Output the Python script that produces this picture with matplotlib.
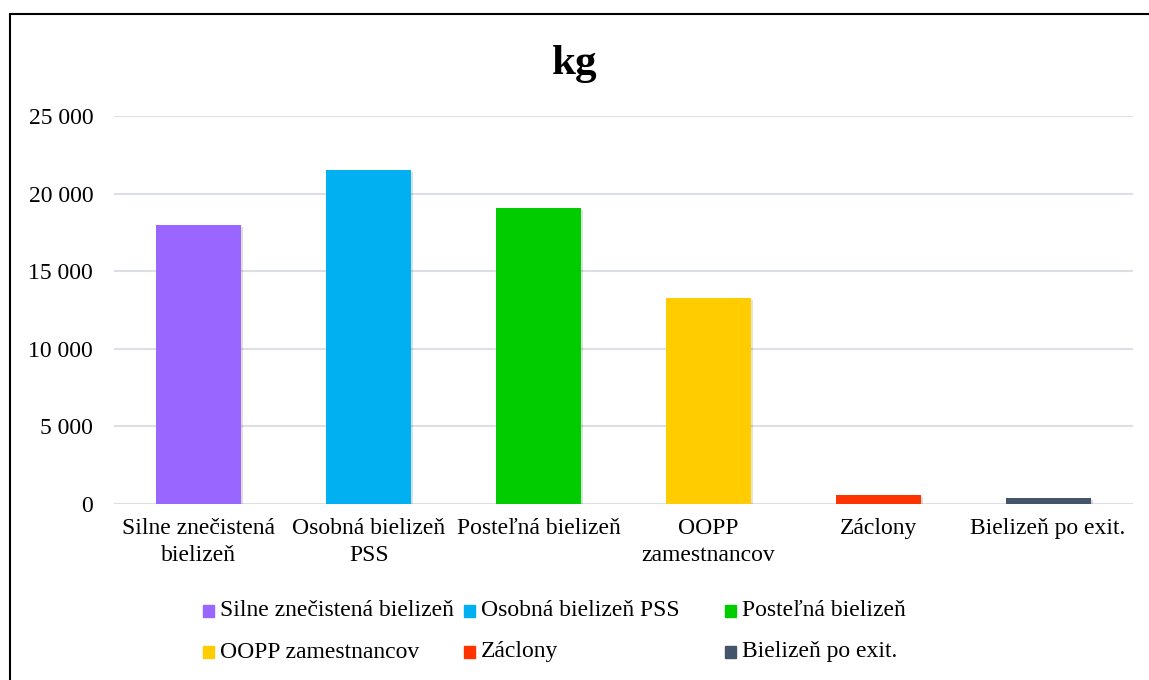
import matplotlib.pyplot as plt
import matplotlib.patheffects as pe
from matplotlib.patches import Rectangle
from matplotlib.ticker import FuncFormatter

plt.rcParams['font.family'] = ['Liberation Serif', 'DejaVu Serif']

# Data
categories = ["Silne znečistená bielizeň", "Osobná bielizeň PSS", "Posteľná bielizeň",
              "OOPP zamestnancov", "Záclony", "Bielizeň po exit."]
tick_labels = ["Silne znečistená\nbielizeň", "Osobná bielizeň\nPSS", "Posteľná bielizeň",
               "OOPP\nzamestnancov", "Záclony", "Bielizeň po exit."]
values = [18000, 21550, 19050, 13300, 580, 390]
colors = ["#9966FF", "#00B0F0", "#00CC00", "#FFCC00", "#FF3300", "#44546A"]

W, H = 1149, 680
fig = plt.figure(figsize=(W / 100, H / 100), dpi=100)
ax = fig.add_axes([114 / W, 1 - 504 / H, (1133 - 114) / W, (504 - 116) / H])

x = list(range(len(values)))
bars = ax.bar(x, values, width=0.5, color=colors, zorder=3)
for b in bars:
    b.set_path_effects([pe.SimplePatchShadow(offset=(1.5, -1.5), alpha=0.15), pe.Normal()])

ax.set_xlim(-0.5, len(values) - 0.5)
ax.set_ylim(0, 25000)
ax.set_yticks(range(0, 25001, 5000))
ax.yaxis.set_major_formatter(FuncFormatter(lambda v, p: f"{int(v):,}".replace(",", " ")))
ax.set_xticks(x)
ax.set_xticklabels(tick_labels, linespacing=1.4)
ax.tick_params(axis='both', length=0, labelsize=17, colors='black')
ax.tick_params(axis='y', pad=15)
ax.tick_params(axis='x', pad=10)
ax.grid(axis='y', color='#DCDFE3', linewidth=1.5, zorder=0)
for s in ax.spines.values():
    s.set_visible(False)

fig.text(0.5, 1 - 64 / H, "kg", ha='center', va='center', fontsize=31, fontweight='bold')

# legend, equal column widths
for i, (lab, col) in enumerate(zip(categories, colors)):
    r, c = divmod(i, 3)
    lx = 203 + c * 261
    ly = 611 + r * 41
    fig.patches.append(Rectangle((lx / W, 1 - (ly + 6) / H), 11 / W, 12 / H,
                                 transform=fig.transFigure, color=col))
    fig.text((lx + 17) / W, 1 - ly / H, lab, ha='left', va='center', fontsize=17)

# outer frame
fig.patches.append(Rectangle((10 / W, -0.1), 1.1, 1.1 - 14 / H, transform=fig.transFigure,
                             fill=False, edgecolor='black', linewidth=1.5, clip_on=False))

fig.savefig("out.png", dpi=100)
